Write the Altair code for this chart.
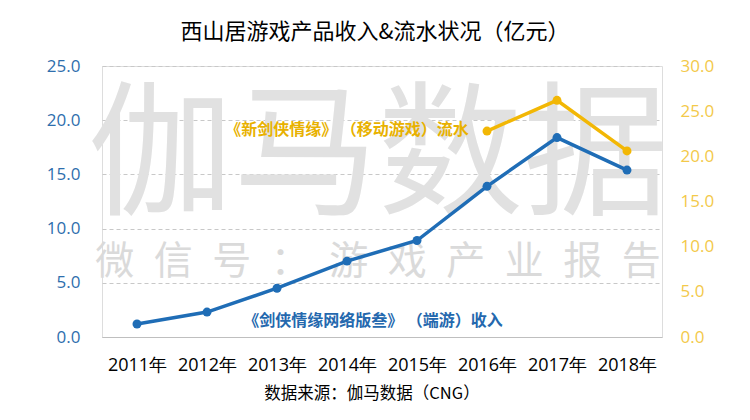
import altair as alt
import pandas as pd

years = ["2011年", "2012年", "2013年", "2014年", "2015年", "2016年", "2017年", "2018年"]
revenue = [1.2, 2.3, 4.5, 7.0, 8.9, 13.9, 18.4, 15.4]
flow_years = ["2016年", "2017年", "2018年"]
flow = [22.8, 26.2, 20.6]

left_ticks = [0, 5, 10, 15, 20, 25]
right_ticks = [0, 5, 10, 15, 20, 25, 30]

title_text = "西山居游戏产品收入&流水状况（亿元）"
source_text = "数据来源：伽马数据（CNG）"
label_flow = "《新剑侠情缘》 （移动游戏）流水"
label_rev = "《剑侠情缘网络版叁》 （端游）收入"
wm_big = "伽马数据"
wm_small = "\u2002".join("微信号：游戏产业报告")

BLUE = "#1F6DB6"
YELLOW = "#F2B705"
CJK = "Noto Sans CJK SC"
NUM = "Open Sans"

df_rev = pd.DataFrame({"year": years, "value": revenue})
df_flow = pd.DataFrame({"year": flow_years, "value": flow})

xscale = alt.Scale(domain=years, type="point", padding=0.5)
xaxis = alt.Axis(labelAngle=0, labelFontSize=18, labelColor="#000000", labelFont=NUM,
                 domainColor="#BFBFBF", domainWidth=1, ticks=False, labelPadding=19,
                 title=None, grid=False)


def txt(s, x, y, size, color, weight="normal", font=CJK):
    return alt.Chart(pd.DataFrame({"t": [s]})).mark_text(
        fontSize=size, color=color, font=font, fontWeight=weight,
        align="center", baseline="middle"
    ).encode(x=alt.value(x), y=alt.value(y), text="t:N")


wm1 = txt(wm_big, 276, 94, 145, "#E1E1E1")
wm2 = txt(wm_small, 276, 196, 39, "#DADADA")

blue = alt.Chart(df_rev).mark_line(
    color=BLUE, strokeWidth=3.5,
    point=alt.OverlayMarkDef(color=BLUE, size=80, filled=True, opacity=1)
).encode(
    x=alt.X("year:N", scale=xscale, axis=xaxis),
    y=alt.Y("value:Q", scale=alt.Scale(domain=[0, 25]),
            axis=alt.Axis(orient="left", values=left_ticks, format=".1f", grid=True,
                          gridDash=[4, 3], gridColor="#C8C8C8", domain=False, ticks=False,
                          labelFontSize=17, labelColor="#2E6EAD", labelFont=NUM,
                          labelPadding=22, title=None))
)

yellow = alt.Chart(df_flow).mark_line(
    color=YELLOW, strokeWidth=3.5,
    point=alt.OverlayMarkDef(color=YELLOW, size=80, filled=True, opacity=1)
).encode(
    x=alt.X("year:N", scale=xscale, axis=xaxis),
    y=alt.Y("value:Q", scale=alt.Scale(domain=[0, 30]),
            axis=alt.Axis(orient="right", values=right_ticks, format=".1f", grid=False,
                          domain=False, ticks=False, labelFontSize=17,
                          labelColor="#F3C94A", labelFont=NUM, labelPadding=18,
                          title=None))
)

t_title = txt(title_text, 273, -34, 22, "#000000")
t_source = txt(source_text, 270, 328, 16.5, "#000000")
a_flow = txt(label_flow, 245, 64, 16, "#E8B100", "bold")
a_rev = txt(label_rev, 271, 255, 16, "#2468AE", "bold")

chart = alt.layer(wm1, wm2, blue, yellow, a_flow, a_rev, t_title, t_source).resolve_scale(
    y="independent"
).properties(
    width=560, height=271, autosize="none",
    padding={"left": 94, "top": 58, "right": 80, "bottom": 75}
).configure_view(stroke=None).configure(background="white")

chart.save("out.html", embed_options={"renderer": "svg", "actions": False})
